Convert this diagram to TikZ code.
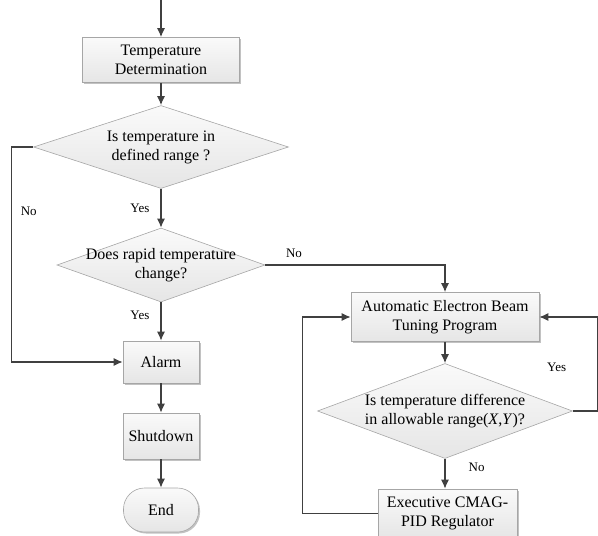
\documentclass[tikz,border=0pt]{standalone}
\usepackage{fontspec}
\setmainfont{Liberation Serif}
\usetikzlibrary{calc,arrows.meta,shapes.geometric,shadows}

\begin{document}
\begin{tikzpicture}[x=1pt,y=-1pt,>={Latex[length=9pt,width=8pt]},
    font=\fontsize{16}{19}\selectfont,
    flow/.style={->,draw=black!75,line width=1.3pt},
    lbl/.style={font=\fontsize{13}{15}\selectfont,inner sep=2pt},
    procbox/.style={draw=black!35,top color=black!2,bottom color=black!10,line width=0.6pt,
        align=center,inner sep=0pt,
        drop shadow={shadow xshift=1.5pt,shadow yshift=-1.5pt,fill=black!40,opacity=0.6}},
    decision/.style={diamond,draw=black!35,top color=black!2,bottom color=black!10,
        line width=0.6pt,inner sep=0pt},
    endbox/.style={procbox,rounded corners=21pt}]
  \useasboundingbox (0,0) rectangle (598,536);

  % left column
  \coordinate (top) at (161,0);
  \node[procbox,minimum width=157pt,minimum height=45pt] (det) at (161,60) {Temperature\\Determination};
  \node[decision,minimum width=255pt,minimum height=83pt] (q1) at (161,147) {};
  \node[align=center] (q1t) at (q1) {Is temperature in\\defined range ?};
  \node[decision,minimum width=208pt,minimum height=74pt] (q2) at (161,265) {};
  \node[align=center] (q2t) at (q2) {Does rapid temperature\\change?};
  \node[procbox,minimum width=76pt,minimum height=42pt] (alarm) at (161,362) {Alarm};
  \node[procbox,minimum width=76pt,minimum height=46pt] (shut) at (161,436) {Shutdown};
  \node[endbox,minimum width=75pt,minimum height=44pt] (end) at (161,510) {End};

  % right column
  \node[procbox,minimum width=188pt,minimum height=49pt] (auto) at (445,317) {Automatic Electron Beam\\Tuning Program};
  \node[decision,minimum width=255pt,minimum height=95pt] (q3) at (445,411) {};
  \node[align=center] (q3t) at (q3) {Is temperature difference\\in allowable range(\textit{X},\textit{Y})?};
  \node[procbox,minimum width=139pt,minimum height=49pt] (exec) at (447.5,513.5) {Executive CMAG-\\PID Regulator};

  \draw[flow] (top) -- (det);
  \draw[flow] (det) -- (q1);
  \draw[flow] (q1) -- node[lbl,left=9pt] (yes1) {Yes} (q2);
  \draw[flow] (q2) -- node[lbl,left=9pt,pos=0.35] (yes2) {Yes} (alarm);
  \draw[flow] (alarm) -- (shut);
  \draw[flow] (shut) -- (end);
  \draw[flow] (q1.west) -- ++(-22,0) |- node[lbl,right=7pt,pos=0.15] (no1) {No} (alarm.west);
  \draw[flow] (q2.east) -| node[lbl,above=5pt,pos=0.08] (no2) {No} (auto.north);
  \draw[flow] (auto) -- (q3);
  \draw[flow] (q3) -- node[lbl,right=21pt,pos=0.3] (no3) {No} (q3.south |- exec.north);
  \draw[flow] (q3.east) -- ++(25,0) |- node[lbl,left=29pt,pos=0.23] (yes3) {Yes} (auto.east);
  \draw[flow] (exec.west) -- ++(-75,0) |- (auto.west);
\end{tikzpicture}
\end{document}
